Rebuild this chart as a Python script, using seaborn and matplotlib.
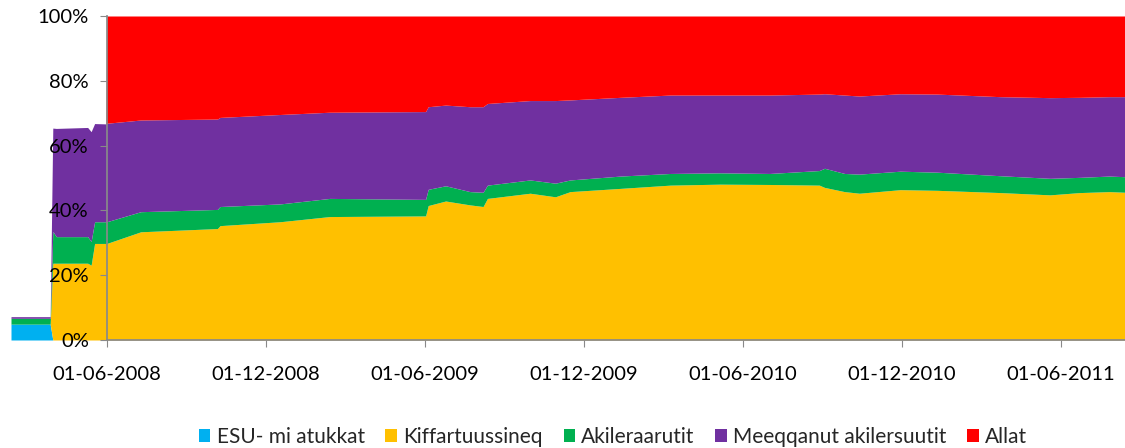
import pandas as pd
import matplotlib
matplotlib.use("Agg")
import matplotlib.pyplot as plt
import matplotlib.dates as mdates
from matplotlib.ticker import PercentFormatter, FixedLocator
from matplotlib.patches import Patch
import seaborn as sns

# share of each group (%), per date
DATES = [
    "2008-02-12", "2008-03-28", "2008-03-31", "2008-04-04", "2008-05-10", "2008-05-14",
    "2008-05-18", "2008-05-31", "2008-06-01", "2008-07-10", "2008-10-06", "2008-10-09",
    "2008-12-17", "2009-02-12", "2009-06-02", "2009-06-05", "2009-06-25", "2009-07-23",
    "2009-08-07", "2009-08-12", "2009-09-30", "2009-10-29", "2009-11-15", "2010-01-12",
    "2010-03-10", "2010-05-06", "2010-07-02", "2010-08-28", "2010-09-03", "2010-09-26",
    "2010-10-13", "2010-11-29", "2011-01-10", "2011-03-24", "2011-05-20", "2011-06-23",
    "2011-07-27", "2011-08-14",
]
ESU = [4.9, 4.9] + [0] * 36
KIFFARTUUSSINEQ = [
    0, 0, 23.7, 23.7, 23.7, 23.1, 29.8, 29.8, 29.8, 33.4, 34.4, 35.3,
    36.5, 38.1, 38.3, 41.5, 42.9, 41.7, 41.2, 43.7, 45.3, 44.2, 45.8, 46.8,
    47.8, 48.1, 48.0, 47.8, 47.1, 45.8, 45.3, 46.4, 46.2, 45.5, 44.8, 45.5,
    45.8, 45.6,
]
AKILERAARUTIT = [
    1.8, 1.8, 9.8, 8.2, 8.2, 7.3, 6.7, 6.7, 6.7, 6.2, 5.9, 5.9,
    5.5, 5.6, 5.1, 5.0, 4.7, 4.1, 4.4, 4.1, 4.1, 4.2, 3.6, 3.8,
    3.6, 3.5, 3.4, 4.5, 5.9, 5.6, 5.9, 5.7, 5.6, 5.2, 5.1, 4.7,
    4.8, 4.8,
]
MEEQQANUT = [
    0.5, 0.5, 31.9, 33.4, 33.7, 33.9, 30.3, 30.2, 30.4, 28.3, 27.9, 27.5,
    27.6, 26.6, 27.1, 25.5, 24.9, 26.2, 26.4, 25.2, 24.5, 25.5, 24.7, 24.3,
    24.2, 24.0, 24.2, 23.6, 23.0, 24.2, 24.1, 23.9, 24.1, 24.4, 24.9, 24.7,
    24.5, 24.7,
]
ALLAT = [
    0, 0, 0, 0, 0, 0, 0, 0, 33.1, 32.1, 31.8, 31.3,
    30.4, 29.7, 29.5, 28.0, 27.5, 28.0, 28.0, 27.0, 26.1, 26.1, 25.9, 25.1,
    24.4, 24.4, 24.4, 24.1, 24.0, 24.4, 24.7, 24.0, 24.1, 24.9, 25.2, 25.1,
    24.9, 24.9,
]

SERIES = ["ESU- mi atukkat", "Kiffartuussineq", "Akileraarutit",
          "Meeqqanut akilersuutit", "Allat"]
COLORS = ["#00B0F0", "#FFC000", "#00B050", "#7030A0", "#FF0000"]
TICK_DATES = ["2008-06-01", "2008-12-01", "2009-06-01", "2009-12-01",
              "2010-06-01", "2010-12-01", "2011-06-01"]


def main():
    sns.set_theme(style="white")
    plt.rcParams["font.family"] = ["Lato", "DejaVu Sans"]

    df = pd.DataFrame({
        "date": pd.to_datetime(DATES),
        SERIES[0]: ESU,
        SERIES[1]: KIFFARTUUSSINEQ,
        SERIES[2]: AKILERAARUTIT,
        SERIES[3]: MEEQQANUT,
        SERIES[4]: ALLAT,
    })

    fig = plt.figure(figsize=(11.25, 4.48), dpi=100)
    ax = fig.add_axes([11 / 1125, 1 - 340 / 448, 1 - 11 / 1125, (340 - 16) / 448])

    ax.stackplot(df["date"], *[df[s] for s in SERIES], colors=COLORS, linewidth=0)
    ax.set_axisbelow(False)  # tick labels sit on top of the areas

    x0 = mdates.date2num(pd.Timestamp(DATES[0]))
    x1 = mdates.date2num(pd.Timestamp(DATES[-1]))
    xaxis_at = mdates.date2num(pd.Timestamp(TICK_DATES[0]))
    ax.set_xlim(x0, x1)
    ax.set_ylim(0, 100)

    # Excel-style: value axis crosses at 01-06-2008
    for side in ["top", "right"]:
        ax.spines[side].set_visible(False)
    ax.spines["left"].set_position(("data", xaxis_at))
    ax.spines["left"].set_color("#898989")
    ax.spines["bottom"].set_color("#898989")
    ax.spines["bottom"].set_bounds(xaxis_at, x1)

    ax.yaxis.set_major_locator(FixedLocator([0, 20, 40, 60, 80, 100]))
    ax.yaxis.set_major_formatter(PercentFormatter(100, decimals=0))
    ax.xaxis.set_major_locator(FixedLocator(mdates.date2num(pd.to_datetime(TICK_DATES))))
    ax.xaxis.set_major_formatter(mdates.DateFormatter("%d-%m-%Y"))

    ax.tick_params(axis="y", which="major", left=True, length=5, width=0.8,
                   color="#898989", pad=8, labelsize=14.5, labelcolor="black")
    ax.tick_params(axis="x", which="major", bottom=True, length=5, width=0.8,
                   color="#898989", pad=14, labelsize=14.5, labelcolor="black")

    handles = [Patch(facecolor=c, edgecolor="none") for c in COLORS]
    fig.legend(handles, SERIES, loc="center", bbox_to_anchor=(613 / 1125, 1 - 437 / 448),
               ncol=5, frameon=False, fontsize=15, handlelength=0.55, handleheight=0.55,
               handletextpad=0.3, columnspacing=1.0)

    fig.savefig("out.png", dpi=100)


################################################################################
if __name__ == "__main__":
    main()
